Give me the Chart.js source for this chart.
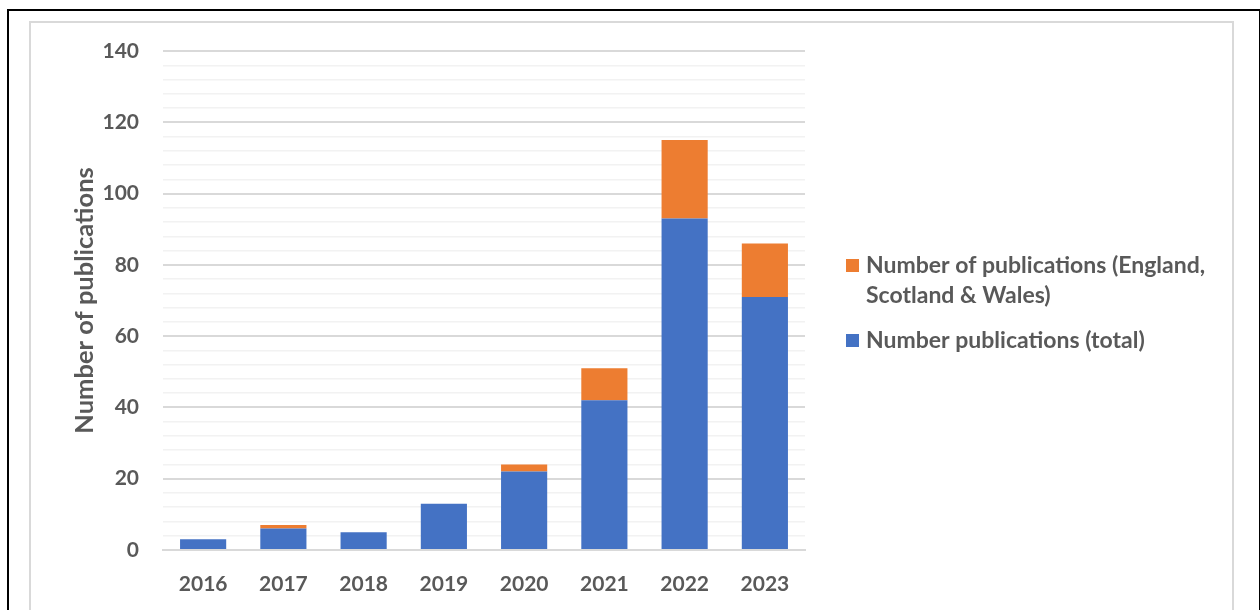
<!DOCTYPE html>
<html lang="en">
<head>
    <meta charset="UTF-8">
    <title>Number of publications</title>
    <style>
        body { margin: 0; background: #fff; }
        .frame { position: absolute; left: 7px; top: 9px; width: 1250px; height: 700px; border: 2px solid #000; }
        .inner { position: absolute; left: 29px; top: 21px; width: 1201px; height: 700px; border: 2px solid #d9d9d9; }
        #wrap { position: absolute; left: 0; top: 0; width: 1260px; height: 610px; }
    </style>
</head>
<body>
    <div class="frame"></div>
    <div class="inner"></div>
    <div id="wrap"><canvas id="pubChart"></canvas></div>

    <script src="https://cdn.jsdelivr.net/npm/chart.js"></script>
    <script>
        // values
        const years = ['2016', '2017', '2018', '2019', '2020', '2021', '2022', '2023'];
        const totalPubs = [3, 6, 5, 13, 22, 42, 93, 71];
        const ukPubs = [0, 1, 0, 0, 2, 9, 22, 15];

        const textGrey = '#595959';
        const blue = '#4472C4';
        const orange = '#ED7D31';

        // legend on the right, orange first, label wrapped over two lines
        const sideLegend = {
            id: 'sideLegend',
            afterDraw(chart) {
                const ctx = chart.ctx;
                const items = [
                    { ds: 1, lines: ['Number of publications (England,', 'Scotland & Wales)'], y: 266 },
                    { ds: 0, lines: ['Number publications (total)'], y: 341 }
                ];
                ctx.save();
                ctx.font = 'bold 23px Lato';
                ctx.textBaseline = 'middle';
                ctx.textAlign = 'left';
                items.forEach(it => {
                    ctx.fillStyle = chart.data.datasets[it.ds].backgroundColor;
                    ctx.fillRect(846, it.y - 7, 13, 13);
                    ctx.fillStyle = textGrey;
                    it.lines.forEach((line, i) => ctx.fillText(line, 866, it.y + i * 30));
                });
                ctx.restore();
            }
        };

        new Chart(document.getElementById('pubChart'), {
            type: 'bar',
            data: {
                labels: years,
                datasets: [
                    { label: 'Number publications (total)', data: totalPubs, backgroundColor: blue },
                    { label: 'Number of publications (England, Scotland & Wales)', data: ukPubs, backgroundColor: orange }
                ]
            },
            options: {
                responsive: true,
                maintainAspectRatio: false,
                animation: false,
                layout: { padding: { left: 58, right: 455, top: 51, bottom: 0 } },
                datasets: { bar: { categoryPercentage: 1, barPercentage: 0.575 } },
                plugins: { legend: { display: false }, tooltip: { enabled: false } },
                scales: {
                    x: {
                        stacked: true,
                        grid: { display: false },
                        border: { color: '#d9d9d9', width: 2 },
                        ticks: { color: textGrey, font: { family: 'Lato', size: 21, weight: 'bold' }, padding: 14 },
                        afterFit(scale) { scale.height = 60; }
                    },
                    y: {
                        stacked: true,
                        min: 0,
                        max: 140,
                        border: { display: false },
                        grid: {
                            drawTicks: false,
                            color: c => (c.tick.value % 20 === 0 ? '#d9d9d9' : '#f2f2f2'),
                            lineWidth: c => (c.tick.value % 20 === 0 ? 2 : 1.5)
                        },
                        ticks: {
                            stepSize: 4,
                            autoSkip: false,
                            padding: 24,
                            color: textGrey,
                            font: { family: 'Lato', size: 21, weight: 'bold' },
                            callback: v => (v % 20 === 0 ? v : '')
                        },
                        title: {
                            display: true,
                            text: 'Number of publications',
                            color: textGrey,
                            font: { family: 'Lato', size: 25.5, weight: 'bold' },
                            padding: { top: 11, bottom: 0 }
                        },
                        afterFit(scale) { scale.width = 105; }
                    }
                }
            },
            plugins: [sideLegend]
        });
    </script>
</body>
</html>
